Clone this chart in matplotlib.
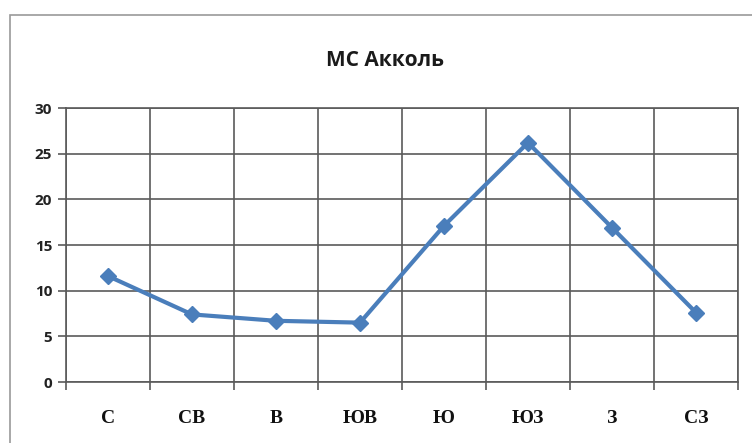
import matplotlib.pyplot as plt
from matplotlib.patches import Rectangle
import numpy as np

# wind directions and values
directions = ['С', 'СВ', 'В', 'ЮВ', 'Ю', 'ЮЗ', 'З', 'СЗ']
values = [11.6, 7.4, 6.7, 6.5, 17.1, 26.2, 16.9, 7.6]
y_ticks = [0, 5, 10, 15, 20, 25, 30]

W, H = 752, 443
fig = plt.figure(figsize=(W / 100, H / 100), dpi=100)

# outer chart frame (runs past the bottom and right edges)
fig.patches.append(Rectangle((10 / W, -0.2), 1.2, 1.2 - 15 / H, transform=fig.transFigure,
                             fill=False, edgecolor='#9a9a9a', linewidth=1.2))

ax = fig.add_axes([66 / W, 1 - 382 / H, (738 - 66) / W, (382 - 108) / H])

x = np.arange(len(directions))
ax.plot(x, values, color='#4a7ebb', linewidth=3, marker='D', markersize=8,
        markerfacecolor='#4a7ebb', markeredgecolor='#4a7ebb', zorder=3)

ax.set_xlim(-0.5, len(directions) - 0.5)
ax.set_ylim(0, 30)

# vertical grid at category boundaries
for b in np.arange(-0.5, len(directions), 1.0):
    ax.axvline(b, color='#5a5a5a', linewidth=1.2, zorder=1)
for t in y_ticks:
    ax.axhline(t, color='#5a5a5a', linewidth=1.2, zorder=1)

ax.set_yticks(y_ticks)
ax.set_yticklabels([str(t) for t in y_ticks], fontsize=11, fontweight='bold',
                   family='Open Sans', color='#222222')
ax.set_xticks(np.arange(-0.5, len(directions), 1.0), minor=False)
ax.set_xticklabels([''] * (len(directions) + 1))
ax.set_xticks(x, minor=True)
ax.set_xticklabels(directions, minor=True, fontsize=14, fontweight='bold',
                   family='Liberation Serif', color='#111111')
ax.tick_params(axis='x', which='major', length=6, width=1.2, color='#5a5a5a')
ax.tick_params(axis='x', which='minor', length=0, pad=20)
ax.tick_params(axis='y', length=6, width=1.2, color='#5a5a5a', pad=4)

for s in ax.spines.values():
    s.set_color('#5a5a5a')
    s.set_linewidth(1.2)

fig.text(385 / W, 1 - 60 / H, 'МС Акколь', ha='center', va='center',
         fontsize=15, fontweight='bold', family='Open Sans', color='#1a1a1a')

fig.savefig('out.png', dpi=100)
